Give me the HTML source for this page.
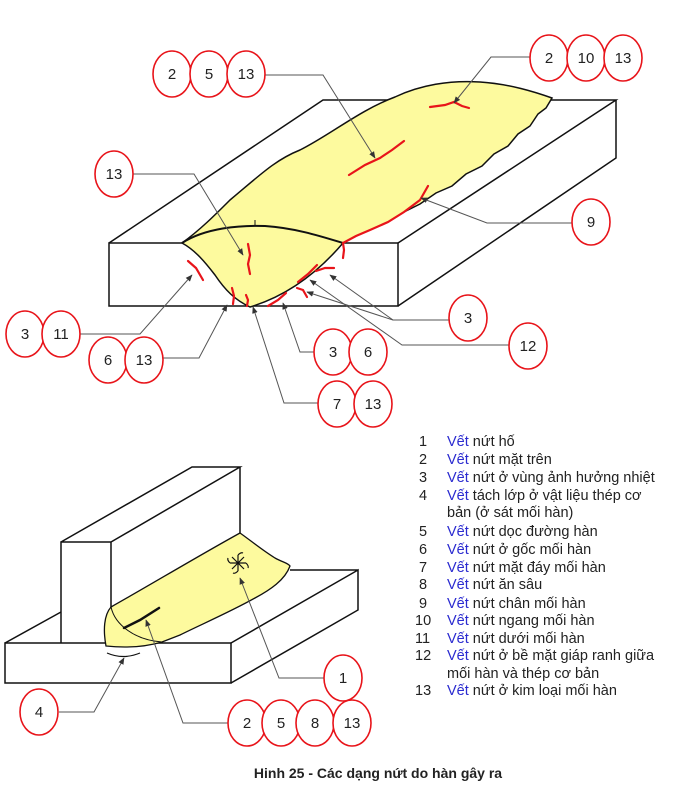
<!DOCTYPE html>
<html><head><meta charset="utf-8"><style>
html,body{margin:0;padding:0;background:#fff;}
svg{display:block;}
text{font-family:"Liberation Sans",Arial,sans-serif;}
</style></head><body>
<svg width="680" height="795" viewBox="0 0 680 795" xmlns="http://www.w3.org/2000/svg">
<defs>
<marker id="a" viewBox="0 0 10 10" refX="9" refY="5" markerWidth="7" markerHeight="7" orient="auto-start-reverse"><path d="M0,1 L10,5 L0,9 z" fill="#333"/></marker>
</defs>
<!-- TOP BLOCK -->
<g fill="none" stroke="#111" stroke-width="1.5">
<rect x="109" y="243" width="289" height="63" fill="#fff"/>
<path d="M109,243 L323,100 L616,100 L398,243"/>
<path d="M616,100 L616,158 L398,306"/>
</g>
<!-- bead -->
<path d="M182,243 C200,230 215,215 230,200 C260,175 275,160 300,150 C330,135 360,110 395,97 C420,85 450,80 480,82 C510,84 535,92 552,98 L546,108 L538,114 L530,126 L518,134 L508,146 L494,154 L482,166 L466,174 L452,186 L436,193 L420,204 L404,212 L388,222 L370,230 L356,236 L343,243 C320,270 290,295 250,307 C235,300 225,290 215,275 C205,262 195,250 182,243 Z" fill="#fdfa9e" stroke="#111" stroke-width="1.5"/>
<path d="M182,243 C205,228 240,225 265,226 C295,228 320,236 343,243" fill="none" stroke="#111" stroke-width="2"/>
<path d="M255,220 L255,226" stroke="#111" stroke-width="1"/>
<!-- red cracks -->
<g fill="none" stroke="#e8141a" stroke-width="2.2" stroke-linecap="round">
<path d="M349,175 L365,165 L380,158 L392,150 L404,141"/>
<path d="M430,107 L445,105 L454,102 L462,106 L469,108"/>
<path d="M248,244 L250,255 L248,264 L250,274"/>
<path d="M188,261 L196,268 L203,280"/>
<path d="M232,288 L234,296 L233,304"/>
<path d="M246,295 L248,300 L247,306"/>
<path d="M268,306 L278,300 L286,293"/>
<path d="M316,271 L325,268 L334,268"/>
<path d="M297,288 L303,290 L307,297"/>
<path d="M298,282 L308,274 L317,265"/>
<path d="M343,258 L344,250 L343,243 L356,236 L370,230 L388,222 L404,212 L420,200 L428,186"/>
</g>
<!-- top leaders -->
<g fill="none" stroke="#555" stroke-width="1">
<path d="M265,75 L323,75 L375,158" marker-end="url(#a)"/>
<path d="M530,57 L491,57 L454,103" marker-end="url(#a)"/>
<path d="M133,174 L194,174 L243,255" marker-end="url(#a)"/>
<path d="M572,223 L487,223 L421,198" marker-end="url(#a)"/>
<path d="M449,320 L393,320 L330,275" marker-end="url(#a)"/>
<path d="M393,320 L307,292" marker-end="url(#a)"/>
<path d="M509,345 L402,345 L310,280" marker-end="url(#a)"/>
<path d="M80,334 L140,334 L192,275" marker-end="url(#a)"/>
<path d="M163,358 L199,358 L227,305" marker-end="url(#a)"/>
<path d="M315,352 L300,352 L283,303" marker-end="url(#a)"/>
<path d="M318,403 L284,403 L253,307" marker-end="url(#a)"/>
</g>
<!-- circles -->
<g fill="#fff" stroke="#e8141a" stroke-width="1.6">
<ellipse cx="172" cy="74" rx="19" ry="23"/><ellipse cx="209" cy="74" rx="19" ry="23"/><ellipse cx="246" cy="74" rx="19" ry="23"/>
<ellipse cx="549" cy="58" rx="19" ry="23"/><ellipse cx="586" cy="58" rx="19" ry="23"/><ellipse cx="623" cy="58" rx="19" ry="23"/>
<ellipse cx="114" cy="174" rx="19" ry="23"/>
<ellipse cx="591" cy="222" rx="19" ry="23"/>
<ellipse cx="468" cy="318" rx="19" ry="23"/>
<ellipse cx="528" cy="346" rx="19" ry="23"/>
<ellipse cx="25" cy="334" rx="19" ry="23"/><ellipse cx="61" cy="334" rx="19" ry="23"/>
<ellipse cx="108" cy="360" rx="19" ry="23"/><ellipse cx="144" cy="360" rx="19" ry="23"/>
<ellipse cx="333" cy="352" rx="19" ry="23"/><ellipse cx="368" cy="352" rx="19" ry="23"/>
<ellipse cx="337" cy="404" rx="19" ry="23"/><ellipse cx="373" cy="404" rx="19" ry="23"/>
</g>
<g font-size="15" text-anchor="middle" fill="#222">
<text x="172" y="79">2</text><text x="209" y="79">5</text><text x="246" y="79">13</text>
<text x="549" y="63">2</text><text x="586" y="63">10</text><text x="623" y="63">13</text>
<text x="114" y="179">13</text><text x="591" y="227">9</text><text x="468" y="323">3</text><text x="528" y="351">12</text>
<text x="25" y="339">3</text><text x="61" y="339">11</text>
<text x="108" y="365">6</text><text x="144" y="365">13</text>
<text x="333" y="357">3</text><text x="368" y="357">6</text>
<text x="337" y="409">7</text><text x="373" y="409">13</text>
</g>
<!-- BOTTOM FIGURE -->
<g fill="none" stroke="#111" stroke-width="1.5">
<rect x="5" y="643" width="226" height="40" fill="#fff"/>
<path d="M5,643 L61,612 M231,643 L358,570 L358,610 L231,683 M358,570 L290,570"/>
<path d="M61,643 L61,542 L111,542 L111,620 M61,542 L192,467 L240,467 L111,542 M240,467 L240,540"/>
</g>
<path d="M111,607 C150,585 200,555 240,533 C250,540 262,550 275,558 C282,562 288,563 290,566 C285,580 270,590 255,598 C230,612 200,625 180,635 L162,642 C145,647 125,648 106,646 C103,630 104,615 111,607 Z" fill="#fdfa9e" stroke="#111" stroke-width="1.3"/>
<path d="M111,607 C115,625 135,640 162,642" fill="none" stroke="#111" stroke-width="1"/>
<path d="M124,628 L140,620 L159,608" stroke="#111" stroke-width="2.5" fill="none" stroke-linecap="round"/>
<g stroke="#111" stroke-width="1.2" fill="none">
<path d="M230,563 L246,563 M238,555 L238,571 M232,557 L244,569 M244,557 L232,569"/>
<path d="M230,563 q-3,-3 -2,-5 M246,563 q3,3 2,5 M238,555 q3,-3 5,-2 M238,571 q-3,3 -5,2"/>
<path d="M107,653 Q123,660 140,653"/>
</g>
<g fill="none" stroke="#555" stroke-width="1">
<path d="M325,678 L279,678 L240,578" marker-end="url(#a)"/>
<path d="M59,712 L94,712 L124,658" marker-end="url(#a)"/>
<path d="M228,723 L183,723 L146,620" marker-end="url(#a)"/>
</g>
<g fill="#fff" stroke="#e8141a" stroke-width="1.6">
<ellipse cx="343" cy="678" rx="19" ry="23"/>
<ellipse cx="39" cy="712" rx="19" ry="23"/>
<ellipse cx="247" cy="723" rx="19" ry="23"/><ellipse cx="281" cy="723" rx="19" ry="23"/><ellipse cx="315" cy="723" rx="19" ry="23"/><ellipse cx="352" cy="723" rx="19" ry="23"/>
</g>
<g font-size="15" text-anchor="middle" fill="#222">
<text x="343" y="683">1</text><text x="39" y="717">4</text>
<text x="247" y="728">2</text><text x="281" y="728">5</text><text x="315" y="728">8</text><text x="352" y="728">13</text>
</g>
<!-- legend -->
<g font-size="14.5" fill="#222">
<text x="419" y="446">1</text><text x="447" y="446"><tspan fill="#2b2bd0">Vết</tspan> nứt hố</text>
<text x="419" y="464">2</text><text x="447" y="464"><tspan fill="#2b2bd0">Vết</tspan> nứt mặt trên</text>
<text x="419" y="482">3</text><text x="447" y="482"><tspan fill="#2b2bd0">Vết</tspan> nứt ở vùng ảnh hưởng nhiệt</text>
<text x="419" y="500">4</text><text x="447" y="500"><tspan fill="#2b2bd0">Vết</tspan> tách lớp ở vật liệu thép cơ</text>
<text x="447" y="517">bản (ở sát mối hàn)</text>
<text x="419" y="536">5</text><text x="447" y="536"><tspan fill="#2b2bd0">Vết</tspan> nứt dọc đường hàn</text>
<text x="419" y="554">6</text><text x="447" y="554"><tspan fill="#2b2bd0">Vết</tspan> nứt ở gốc mối hàn</text>
<text x="419" y="572">7</text><text x="447" y="572"><tspan fill="#2b2bd0">Vết</tspan> nứt mặt đáy mối hàn</text>
<text x="419" y="589">8</text><text x="447" y="589"><tspan fill="#2b2bd0">Vết</tspan> nứt ăn sâu</text>
<text x="419" y="608">9</text><text x="447" y="608"><tspan fill="#2b2bd0">Vết</tspan> nứt  chân mối hàn</text>
<text x="415" y="625">10</text><text x="447" y="625"><tspan fill="#2b2bd0">Vết</tspan> nứt ngang mối hàn</text>
<text x="415" y="643">11</text><text x="447" y="643"><tspan fill="#2b2bd0">Vết</tspan> nứt dưới mối hàn</text>
<text x="415" y="660">12</text><text x="447" y="660"><tspan fill="#2b2bd0">Vết</tspan> nứt ở bề mặt giáp ranh giữa</text>
<text x="447" y="678">mối hàn và thép cơ bản</text>
<text x="415" y="695">13</text><text x="447" y="695"><tspan fill="#2b2bd0">Vết</tspan> nứt ở kim loại mối hàn</text>
</g>
<text x="378" y="778" font-size="14" font-weight="bold" text-anchor="middle" fill="#222">Hinh 25 - Các dạng nứt do hàn gây ra</text>
</svg>
</body></html>
